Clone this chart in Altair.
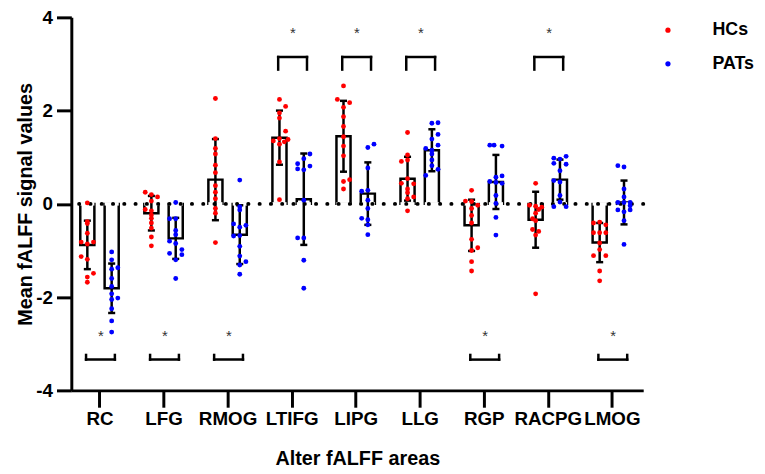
import json
import altair as alt
import pandas as pd

categories = ["RC", "LFG", "RMOG", "LTIFG", "LIPG", "LLG", "RGP", "RACPG", "LMOG"]
groups = ["HCs", "PATs"]
colors = ["#ff0000", "#0000ff"]

hc_mean = [-0.88, -0.20, 0.52, 1.42, 1.45, 0.54, -0.46, -0.34, -0.83]
hc_sd = [0.52, 0.37, 0.87, 0.58, 0.76, 0.47, 0.55, 0.60, 0.42]
pat_mean = [-1.81, -0.74, -0.66, 0.10, 0.22, 1.15, 0.47, 0.52, 0.03]
pat_sd = [0.53, 0.44, 0.63, 0.98, 0.67, 0.45, 0.58, 0.43, 0.47]

hc_points = [
    [0.02, -0.38, -0.42, -0.63, -0.82, -0.82, -0.86, -1.13, -1.19, -1.49, -1.57, -1.68],
    [0.25, 0.20, 0.15, 0.06, -0.12, -0.15, -0.24, -0.31, -0.41, -0.52, -0.71, -0.90],
    [2.26, 1.40, 1.19, 1.07, 0.83, 0.67, 0.39, 0.25, 0.11, -0.10, -0.20, -0.83],
    [2.24, 2.09, 1.95, 1.84, 1.56, 1.40, 1.38, 1.35, 1.33, 1.28, 0.90, 0.09],
    [2.53, 2.24, 2.17, 2.07, 1.87, 1.66, 1.44, 1.24, 1.03, 0.52, 0.48, 0.32],
    [1.53, 1.05, 0.94, 0.91, 0.54, 0.44, 0.43, 0.32, 0.24, 0.15, 0.11, -0.15],
    [0.29, 0.06, 0.05, -0.03, -0.10, -0.25, -0.41, -0.76, -0.94, -1.00, -1.24, -1.44],
    [0.44, -0.03, -0.05, -0.07, -0.12, -0.20, -0.32, -0.36, -0.55, -0.59, -0.67, -1.93],
    [-0.41, -0.39, -0.45, -0.62, -0.62, -0.62, -0.84, -0.98, -1.11, -1.11, -1.44, -1.65],
]
hc_slots = [
    [0, 0, 0, 0, -1, 1, 0, -1, 0, 1, 0, 0],
    [-1, 0, 1, 0, -1, 0, 0, 0, 0, 0, 0, 0],
    [0, 0, 0, 0, 0, 0, 0, 0, 0, 0, 0, 0],
    [0, 1, 0, 0, 1, 0, 1.4, -1, 0.8, 0, 0, 0],
    [0, -1, 1, 0, 0, 0, 0, 0, 0, 1, 0, 0],
    [0, 0, 0, -1, 0, -1, 1, 0, 0, 1, 0, 0],
    [0, -1, 0, 1, 0, 0, 0, 0, 1, 0, 0, 0],
    [0, -1, 0, 1, 0.5, 0, -0.5, 0, -0.5, 0.5, 0, 0],
    [-1, 0, 1, -1, 0, 1, 0, 0, -1, 1, 0, 0],
]
pat_points = [
    [-1.03, -1.20, -1.37, -1.40, -1.60, -1.77, -1.93, -2.02, -2.05, -2.25, -2.51, -2.75],
    [0.03, -0.32, -0.32, -0.57, -0.66, -0.80, -0.85, -0.98, -1.06, -1.09, -1.20, -1.60],
    [0.51, -0.06, -0.13, -0.43, -0.46, -0.50, -0.68, -0.69, -0.91, -1.12, -1.24, -1.31, -1.51],
    [1.07, 0.97, 0.86, 0.81, 0.75, 0.73, 0.08, -0.73, -0.73, -1.21, -1.81],
    [1.28, 1.21, 0.77, 0.29, 0.27, 0.08, -0.10, -0.31, -0.34, -0.45, -0.66],
    [1.74, 1.73, 1.49, 1.39, 1.26, 1.19, 1.15, 1.07, 0.94, 0.82, 0.74, 0.61],
    [1.26, 1.26, 1.24, 0.60, 0.57, 0.48, 0.46, 0.44, 0.18, 0.01, -0.29, -0.67],
    [1.02, 0.98, 0.96, 0.87, 0.85, 0.71, 0.50, 0.47, 0.18, 0.04, -0.06, -0.06],
    [0.82, 0.79, 0.32, 0.15, 0.03, 0.03, 0.03, -0.04, -0.13, -0.13, -0.17, -0.36, -0.87],
]
pat_slots = [
    [0, 0, 1, 0, 0, 0, 0, 1, 0, 0, 0, 0],
    [0, -1, 0, 0, 0, -1, 0, 1, -1, 1, 0, 0],
    [0, 0, 0, -1, 1, 0, 0, -1, 0, 0, 1, 0, 0],
    [1, 0, -1, 1, -1, 0, 0, -1, 0, 0, 0],
    [1, 0, 0, 0, -1, 0, 0, -1, 0, 0, 0],
    [1, 0, 1, 0, 1, -1, 0, 0, 0, 0, 1, -1],
    [-1, -0.3, 1, 1, 0, -1, 0, 1, 0, 0, 0, 0],
    [1, -1, 0, -1, 1, 0, -1, 0, 0, 0, -1, 1],
    [-1, 0, 0, 0, -1, 0, 1, 1, -1, 1, 0, 0, 0],
]

sig_top = ["LTIFG", "LIPG", "LLG", "RACPG"]
sig_bottom = ["RC", "LFG", "RMOG", "RGP", "LMOG"]

# ---- tables built from the lists ----
bar_rows = []
for i, c in enumerate(categories):
    bar_rows.append({"cat": c, "idx": i, "group": "HCs", "mean": hc_mean[i], "sd": hc_sd[i]})
    bar_rows.append({"cat": c, "idx": i, "group": "PATs", "mean": pat_mean[i], "sd": pat_sd[i]})
bars_df = pd.DataFrame(bar_rows)

pt_rows = []
for i, c in enumerate(categories):
    for v, s in zip(hc_points[i], hc_slots[i]):
        pt_rows.append({"cat": c, "idx": i, "group": "HCs", "value": v, "slot": s})
    for v, s in zip(pat_points[i], pat_slots[i]):
        pt_rows.append({"cat": c, "idx": i, "group": "PATs", "value": v, "slot": s})
pts_df = pd.DataFrame(pt_rows)

sig_rows = [{"cat": c, "idx": categories.index(c), "side": "top"} for c in sig_top] + \
           [{"cat": c, "idx": categories.index(c), "side": "bottom"} for c in sig_bottom]
sig_df = pd.DataFrame(sig_rows)

FONT = "Liberation Sans"
GROUP_OFF = "(datum.group == 'HCs' ? -0.19 : 0.19)"

xscale = alt.Scale(domain=[-0.44, 8.49], nice=False, zero=False)
yscale = alt.Scale(domain=[-4, 4], nice=False, zero=False)

label_expr = json.dumps(categories) + "[datum.value]"
xaxis = alt.Axis(
    values=list(range(len(categories))), labelExpr=label_expr, title="Alter fALFF areas",
    grid=False, domainColor="black", domainWidth=3, tickColor="black", tickWidth=3,
    tickSize=17, labelFont=FONT, labelFontSize=19, labelFontWeight="bold",
    labelColor="black", labelPadding=2, labelOverlap=False, titleFont=FONT,
    titleFontSize=20, titleFontWeight="bold", titleColor="black", titlePadding=21,
)
yaxis = alt.Axis(
    values=[-4, -2, 0, 2, 4], title="Mean fALFF signal values", grid=False,
    labelExpr="datum.value < 0 ? '-' + abs(datum.value) : '' + datum.value",
    domainColor="black", domainWidth=3, tickColor="black", tickWidth=3, tickSize=15,
    labelFont=FONT, labelFontSize=19, labelFontWeight="bold", labelColor="black",
    labelPadding=4, titleFont=FONT, titleFontSize=20, titleFontWeight="bold",
    titleColor="black", titlePadding=0,
)

bar_base = alt.Chart(bars_df).transform_calculate(
    xc="datum.idx + " + GROUP_OFF,
    xl="datum.xc - 0.11",
    xr="datum.xc + 0.11",
    hi="datum.mean + datum.sd",
    lo="datum.mean - datum.sd",
)

bars = bar_base.mark_rect(fill="white", stroke="black", strokeWidth=2.5).encode(
    x=alt.X("xl:Q", scale=xscale, axis=xaxis),
    x2="xr:Q",
    y=alt.Y("mean:Q", scale=yscale, axis=yaxis),
    y2=alt.datum(0),
)
base_cover = bar_base.mark_rule(color="white", strokeWidth=3.5).encode(
    x=alt.X("xl:Q", scale=xscale), x2="xr:Q", y=alt.datum(0)
)
zero_line = alt.Chart(pd.DataFrame({"z": [0]})).mark_rule(
    color="black", strokeWidth=4, strokeDash=[0.1, 11.3], strokeCap="round"
).encode(y=alt.Y("z:Q", scale=yscale))

err = bar_base.mark_rule(color="black", strokeWidth=2.5).encode(
    x=alt.X("xc:Q", scale=xscale), y=alt.Y("lo:Q", scale=yscale), y2="hi:Q"
)
caps = bar_base.transform_fold(["hi", "lo"], as_=["end", "yv"]).transform_calculate(
    cl="datum.xc - 0.055", cr="datum.xc + 0.055"
).mark_rule(color="black", strokeWidth=2.5).encode(
    x=alt.X("cl:Q", scale=xscale), x2="cr:Q", y=alt.Y("yv:Q", scale=yscale)
)

points = alt.Chart(pts_df).transform_calculate(
    xp="datum.idx + " + GROUP_OFF + " + datum.slot * 0.096"
).mark_circle(size=24, opacity=1).encode(
    x=alt.X("xp:Q", scale=xscale),
    y=alt.Y("value:Q", scale=yscale),
    color=alt.Color(
        "group:N", scale=alt.Scale(domain=groups, range=colors), title=None,
        legend=alt.Legend(
            orient="none", legendX=594, legendY=4, labelFont=FONT, labelFontSize=18,
            labelFontWeight="bold", labelColor="black", symbolType="circle",
            symbolSize=28, symbolStrokeWidth=0, labelOffset=36, rowPadding=16,
        ),
    ),
)

sig_base = alt.Chart(sig_df).transform_calculate(
    bl="datum.idx - 0.21",
    br="datum.idx + 0.24",
    level="datum.side == 'top' ? 3.15 : -3.34",
    leg="datum.side == 'top' ? 2.88 : -3.24",
    star="datum.side == 'top' ? 3.68 : -2.82",
    sx="datum.idx + 0.02",
)
bracket_h = sig_base.mark_rule(color="black", strokeWidth=2.5, strokeCap="square").encode(
    x=alt.X("bl:Q", scale=xscale), x2="br:Q", y=alt.Y("level:Q", scale=yscale)
)
bracket_v = sig_base.transform_fold(["bl", "br"], as_=["side2", "xv"]).mark_rule(
    color="black", strokeWidth=2.5, strokeCap="square"
).encode(x=alt.X("xv:Q", scale=xscale), y=alt.Y("level:Q", scale=yscale), y2="leg:Q")
stars = sig_base.mark_text(text="*", font=FONT, fontSize=15, color="#333333", dy=1).encode(
    x=alt.X("sx:Q", scale=xscale), y=alt.Y("star:Q", scale=yscale)
)

chart = alt.layer(
    bars, base_cover, zero_line, err, caps, points, bracket_h, bracket_v, stars
).properties(
    width=578, height=377,
    padding={"left": 64, "top": 7, "right": 115, "bottom": 78},
    autosize=alt.AutoSizeParams(type="none"),
).configure_view(stroke=None)

chart.save("out.html", embed_options={"renderer": "svg", "actions": False})
